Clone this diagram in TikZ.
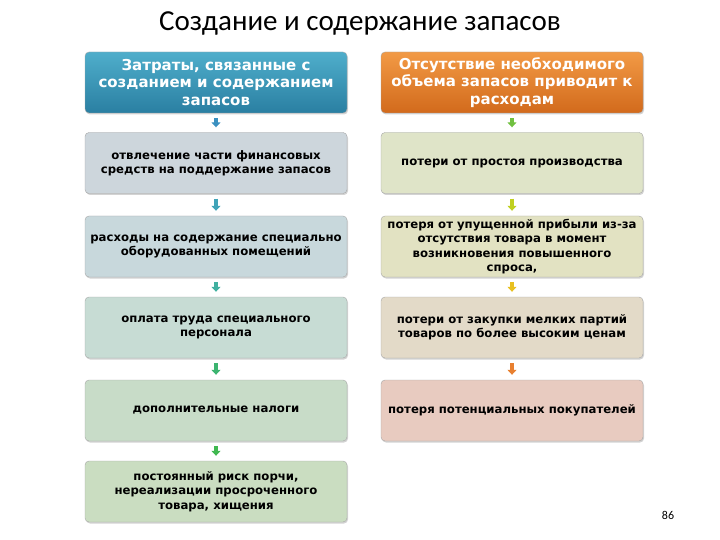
\documentclass[tikz,border=0pt]{standalone}
\usepackage{fontspec}
\setmainfont{Carlito}
\newfontfamily\boxfont{DejaVu Sans}
\usetikzlibrary{shadows,arrows.meta}

\definecolor{headblueA}{HTML}{4FAECB}
\definecolor{headblueB}{HTML}{2A7FA2}
\definecolor{headorA}{HTML}{F29A45}
\definecolor{headorB}{HTML}{D26A1C}

\begin{document}
\begin{tikzpicture}[x=1pt,y=-1pt]
		\tikzstyle{box}=[rectangle,rounded corners=4pt,draw=black!35,thin,minimum width=262pt,minimum height=61pt,align=center,inner sep=1pt,
			font=\boxfont\bfseries\fontsize{11.7}{14.3}\selectfont,drop shadow={opacity=0.35,shadow xshift=1pt,shadow yshift=-1.5pt}]
		\tikzstyle{head}=[box,text=white,font=\boxfont\bfseries\fontsize{15}{17.2}\selectfont]
		\tikzstyle{edge}=[line width=4pt,-{Triangle[width=9pt,length=5pt]},shorten <=5pt,shorten >=5pt]

		\useasboundingbox (0,0) rectangle (720,540);

		\node (title) at (360,23) {\fontsize{29}{32}\selectfont Создание и содержание запасов};

		% left column
		\node [head,top color=headblueA,bottom color=headblueB] (c0) at (216,82.5) {Затраты, связанные с\\созданием и содержанием\\запасов};
		\node [box,fill={rgb,255:red,205;green,214;blue,220}] (c1) at (216,163) {отвлечение части финансовых\\средств на поддержание запасов};
		\node [box,fill={rgb,255:red,200;green,216;blue,220}] (c2) at (216,246.5) {расходы на содержание специально\\оборудованных помещений};
		\node [box,fill={rgb,255:red,199;green,220;blue,212}] (c3) at (216,327.5) {оплата труда специального\\персонала};
		\node [box,fill={rgb,255:red,200;green,220;blue,200}] (c4) at (216,410.5) {дополнительные налоги};
		\node [box,fill={rgb,255:red,202;green,221;blue,193}] (c5) at (216,491.5) {постоянный риск порчи,\\нереализации просроченного\\товара, хищения};

		% right column
		\node [head,top color=headorA,bottom color=headorB] (l0) at (512,82.5) {Отсутствие необходимого\\объема запасов приводит к\\расходам};
		\node [box,fill={rgb,255:red,223;green,228;blue,200}] (l1) at (512,163) {потери от простоя производства};
		\node [box,fill={rgb,255:red,226;green,226;blue,194}] (l2) at (512,246.5) {потеря от упущенной прибыли из-за\\отсутствия товара в момент\\возникновения повышенного\\спроса,};
		\node [box,fill={rgb,255:red,227;green,218;blue,200}] (l3) at (512,327.5) {потери от закупки мелких партий\\товаров по более высоким ценам};
		\node [box,fill={rgb,255:red,232;green,203;blue,192}] (l4) at (512,410.5) {потеря потенциальных покупателей};

		\path[edge,draw={rgb,255:red,58;green,144;blue,192}] (c0) -- (c1);
		\path[edge,draw={rgb,255:red,64;green,164;blue,184}] (c1) -- (c2);
		\path[edge,draw={rgb,255:red,64;green,176;blue,160}] (c2) -- (c3);
		\path[edge,draw={rgb,255:red,60;green,180;blue,112}] (c3) -- (c4);
		\path[edge,draw={rgb,255:red,64;green,184;blue,80}] (c4) -- (c5);

		\path[edge,draw={rgb,255:red,112;green,192;blue,64}] (l0) -- (l1);
		\path[edge,draw={rgb,255:red,192;green,208;blue,32}] (l1) -- (l2);
		\path[edge,draw={rgb,255:red,232;green,192;blue,32}] (l2) -- (l3);
		\path[edge,draw={rgb,255:red,232;green,128;blue,48}] (l3) -- (l4);

		\node (pg) at (668,515) {\fontsize{12}{14}\selectfont 86};

	\end{tikzpicture}
\end{document}
